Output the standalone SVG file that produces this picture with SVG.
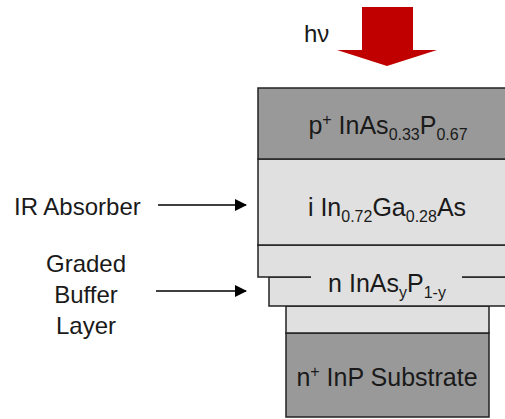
<svg xmlns="http://www.w3.org/2000/svg" width="505" height="419" viewBox="0 0 505 419">
<style>
text{font-family:"Liberation Sans",Arial,sans-serif;fill:#1a1a1a;font-size:24px}
.c{text-anchor:middle}
.L{font-size:25px}
.s{font-size:16px}
.lay{stroke:#222;stroke-width:1.5}
.dark{fill:#999}
.light{fill:#e0e0e0}
.conn{stroke:#000;stroke-width:1.5;fill:none}
</style>
<defs>
<marker id="ah" markerWidth="12" markerHeight="12" refX="11" refY="6" orient="auto" markerUnits="userSpaceOnUse">
<path d="M0,0 L12,6 L0,12 Z" fill="#000"/>
</marker>
</defs>
<rect width="505" height="419" fill="#fff"/>
<g id="light-arrow">
<polygon points="362,7 413,7 413,50 437,50 387,66 337,50 362,50" fill="#c00000"/>
<text x="304" y="42" font-size="24">hν</text>
</g>
<g id="substrate">
<rect class="lay dark" x="286" y="333" width="203" height="84"/>
<text class="c L" x="387" y="386">n<tspan class="s" dy="-9">+</tspan><tspan dy="9"> InP Substrate</tspan></text>
</g>
<g id="buffer">
<rect class="lay light" x="286" y="306" width="203" height="27"/>
<rect class="lay light" x="269" y="277" width="240" height="29"/>
<rect class="lay light" x="258" y="245" width="250" height="32"/>
<rect x="311" y="265" width="151" height="34" fill="#e0e0e0"/>
<text class="c L" x="387" y="292">n InAs<tspan class="s" dy="6">y</tspan><tspan dy="-6">P</tspan><tspan class="s" dy="6">1-y</tspan></text>
</g>
<g id="absorber">
<rect class="lay light" x="258" y="159" width="250" height="86"/>
<text class="c L" x="387" y="216">i In<tspan class="s" dy="6">0.72</tspan><tspan dy="-6">Ga</tspan><tspan class="s" dy="6">0.28</tspan><tspan dy="-6">As</tspan></text>
</g>
<g id="cap">
<rect class="lay dark" x="258" y="88" width="250" height="71"/>
<text class="c L" x="388" y="134">p<tspan class="s" dy="-9">+</tspan><tspan dy="9"> InAs</tspan><tspan class="s" dy="6">0.33</tspan><tspan dy="-6">P</tspan><tspan class="s" dy="6">0.67</tspan></text>
</g>
<g id="labels">
<text x="14" y="215" font-size="24.5">IR Absorber</text>
<text class="c" x="86" y="272" font-size="24.5">Graded</text>
<text class="c" x="86" y="303" font-size="24.5">Buffer</text>
<text class="c" x="86" y="334" font-size="24.5">Layer</text>
</g>
<g id="connectors">
<line class="conn" x1="158" y1="205" x2="246" y2="205" marker-end="url(#ah)"/>
<line class="conn" x1="156" y1="291" x2="246" y2="291" marker-end="url(#ah)"/>
</g>
</svg>
